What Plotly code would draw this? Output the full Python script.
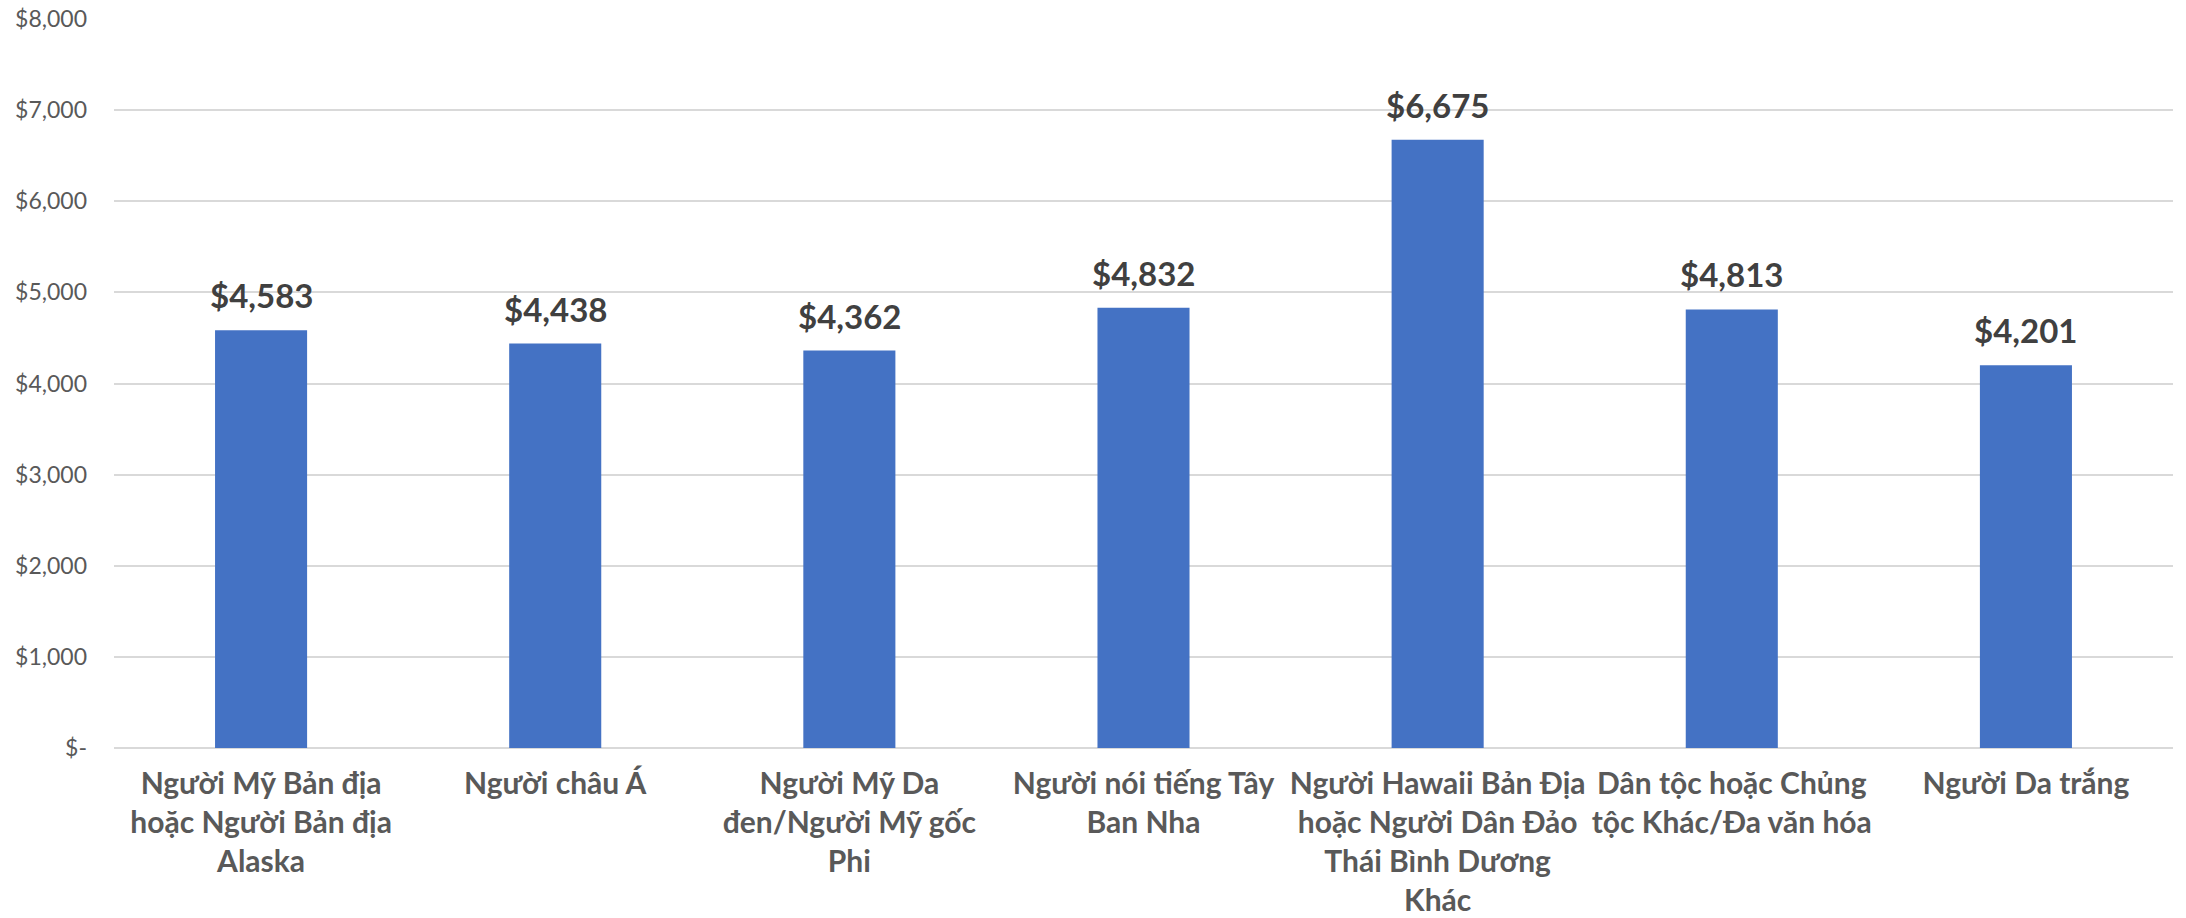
import plotly.graph_objects as go

categories = [
    "Người Mỹ Bản địa<br>hoặc Người Bản địa<br>Alaska",
    "Người châu Á",
    "Người Mỹ Da<br>đen/Người Mỹ gốc<br>Phi",
    "Người nói tiếng Tây<br>Ban Nha",
    "Người Hawaii Bản Địa<br>hoặc Người Dân Đảo<br>Thái Bình Dương<br>Khác",
    "Dân tộc hoặc Chủng<br>tộc Khác/Đa văn hóa",
    "Người Da trắng",
]
values = [4583, 4438, 4362, 4832, 6675, 4813, 4201]
tick_vals = [0, 1000, 2000, 3000, 4000, 5000, 6000, 7000, 8000]
tick_text = ["$-", "$1,000", "$2,000", "$3,000", "$4,000", "$5,000", "$6,000", "$7,000", "$8,000"]

fig = go.Figure()
fig.add_trace(go.Bar(
    x=categories, y=values,
    marker=dict(color="#4472C4", line=dict(width=0)),
    hoverinfo="skip",
))

for c, v in zip(categories, values):
    fig.add_annotation(
        x=c, y=v, text=f"${v:,}", showarrow=False,
        yanchor="bottom", yshift=13,
        font=dict(family="Lato", size=33, color="#404040", weight="bold"),
    )

fig.update_layout(
    width=2186, height=918,
    margin=dict(l=114, r=13, t=19, b=170, autoexpand=False),
    paper_bgcolor="white", plot_bgcolor="white",
    bargap=0.687,
    showlegend=False,
    font=dict(family="Lato"),
)
fig.update_xaxes(
    showgrid=False, showline=False, zeroline=False, ticks="",
    tickfont=dict(family="Lato", size=30, color="#595959", weight="bold"),
    ticklabelstandoff=15,
    tickangle=0, automargin=False,
)
fig.update_yaxes(
    range=[0, 8000], tickvals=tick_vals, ticktext=tick_text,
    showgrid=True, gridcolor="#d9d9d9", gridwidth=2,
    zeroline=True, zerolinecolor="#d9d9d9", zerolinewidth=2,
    showline=False, ticks="",
    tickfont=dict(family="Lato", size=23, color="#595959"),
    ticklabelstandoff=26, automargin=False,
)

fig.write_html(
    "out.html",
    config={"displayModeBar": False},
    post_script="document.body.style.margin='0';document.body.style.overflow='hidden';",
)
